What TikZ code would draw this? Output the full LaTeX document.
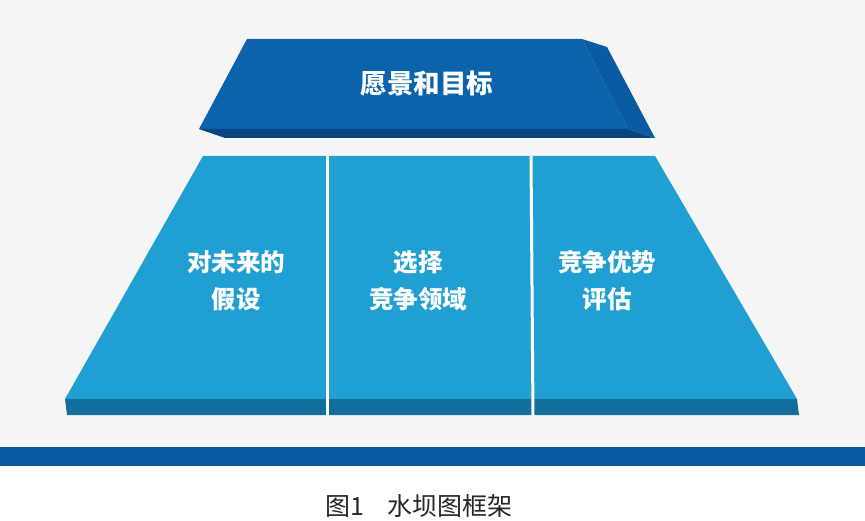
\documentclass[tikz,border=0pt]{standalone}
\usepackage{fontspec}
\newfontfamily\cjk{Noto Sans CJK SC}
\begin{document}
\begin{tikzpicture}[x=1pt,y=-1pt,
  toplbl/.style={text=white,font=\cjk\bfseries\fontsize{26.5}{30}\selectfont,align=center},
  lbl/.style={text=white,font=\cjk\bfseries\fontsize{24.5}{37}\selectfont,align=center},
  captext/.style={text=black!85,font=\cjk\fontsize{25}{28}\selectfont}]
\definecolor{bg}{HTML}{F5F5F5}
\definecolor{topface}{HTML}{0B63AC}
\definecolor{topside}{HTML}{0A5CA2}
\definecolor{topstrip}{HTML}{074585}
\definecolor{lowface}{HTML}{209FD3}
\definecolor{lowstrip}{HTML}{136E9E}
\definecolor{band}{HTML}{075BA2}
\useasboundingbox (0,0) rectangle (865,521);
\fill[white] (0,0) rectangle (865,521);
\fill[bg] (0,0) rectangle (865,447);
% top slab
\fill[topface] (247,39) -- (582,39) -- (628,129) -- (199,129) -- cycle;
\fill[topside] (582,39) -- (607,47) -- (655,138) -- (628,129) -- cycle;
\fill[topstrip] (199,129) -- (628,129) -- (655,138) -- (225,138) -- cycle;
% lower slab
\fill[lowface] (203,156) -- (655,156) -- (797,399) -- (65,399) -- cycle;
\fill[lowstrip] (65,399) -- (797,399) -- (799,415) -- (67,415) -- cycle;
\fill[white] (325.5,156) rectangle (328.5,415.5);
\fill[white] (529.5,156) -- (532.5,156) -- (534.5,415.5) -- (531.5,415.5) -- cycle;
% band
\fill[band] (0,447) rectangle (865,466);
% labels
\node[toplbl] (goal) at (427,84) {愿景和目标};
\node[lbl] (assume) at (236,281) {对未来的\\假设};
\node[lbl] (choose) at (418,281) {选择\\竞争领域};
\node[lbl] (adv) at (607,281) {竞争优势\\评估};
\node[captext] (caption) at (419,506) {图1\hspace{0.9em}水坝图框架};
\end{tikzpicture}
\end{document}
